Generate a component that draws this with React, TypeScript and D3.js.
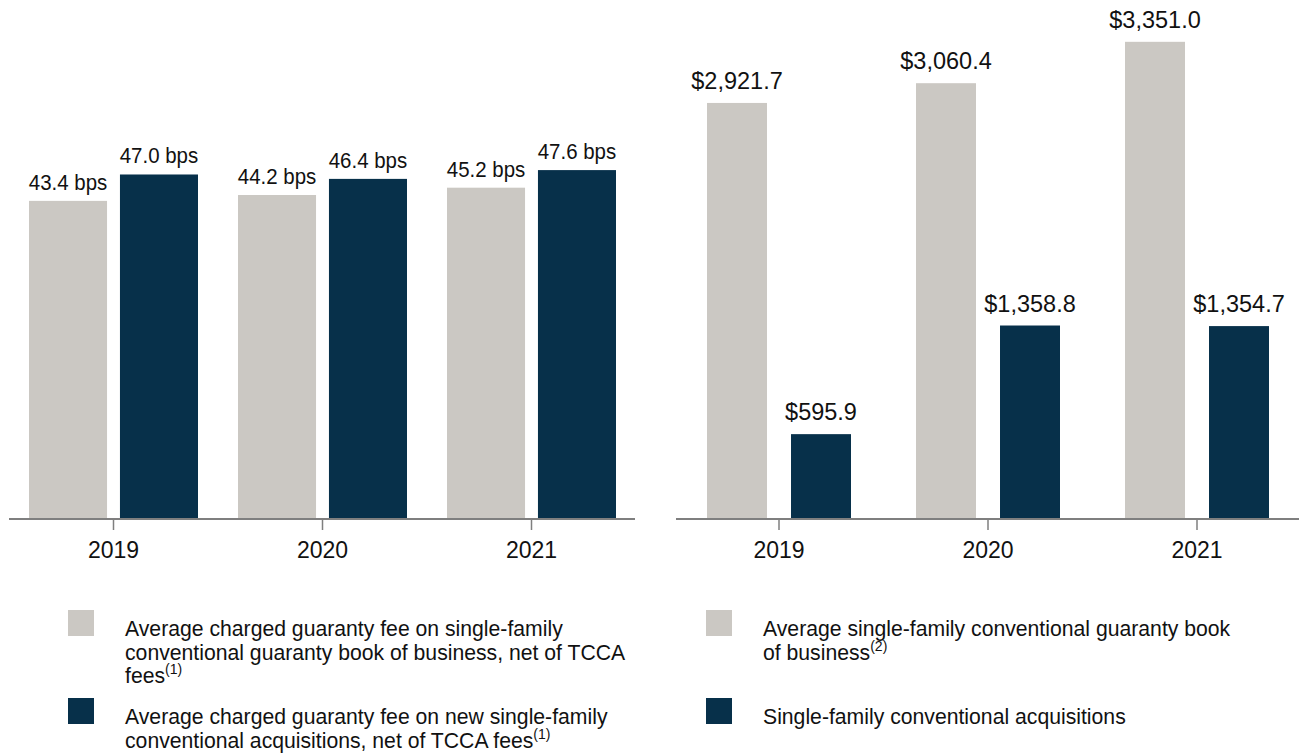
import { useEffect, useRef } from 'react';
import * as d3 from 'd3';

// years shared by both panels
const years = ['2019', '2020', '2021'];

// left panel: guaranty fee, bps
const feeBook = [43.4, 44.2, 45.2];
const feeNew = [47.0, 46.4, 47.6];

// right panel: $ billions
const bookBalance = [2921.7, 3060.4, 3351.0];
const acquisitions = [595.9, 1358.8, 1354.7];

const leftLegend = [
  ['Average charged guaranty fee on single-family', 'conventional guaranty book of business, net of TCCA', 'fees|(1)'],
  ['Average charged guaranty fee on new single-family', 'conventional acquisitions, net of TCCA fees|(1)'],
];
const rightLegend = [
  ['Average single-family conventional guaranty book', 'of business|(2)'],
  ['Single-family conventional acquisitions'],
];

const GRAY = '#cbc8c3';
const NAVY = '#07304a';
const AXIS = '#7f7f7f';
const FONT = '"Liberation Sans", Arial, Helvetica, sans-serif';

interface Panel {
  x0: number;
  x1: number;
  axisStart: number;
  axisEnd: number;
  a: number[];
  b: number[];
  pxPerUnit: number;
  inner: number;
  outer: number;
  fmt: (v: number) => string;
  labelSize: number;
  labelGap: number;
  squeeze: number;
}

const App = () => {
  const ref = useRef(null);

  useEffect(() => {
    const svg = d3.select(ref.current);
    svg.selectAll('*').remove();

    const baseY = 519;

    const panels: Panel[] = [
      {
        x0: 9, x1: 636, axisStart: 9, axisEnd: 635,
        a: feeBook, b: feeNew, pxPerUnit: 7.33,
        inner: 0.142, outer: 0.22,
        fmt: v => `${v.toFixed(1)} bps`,
        labelSize: 22, labelGap: 11, squeeze: 0.93,
      },
      {
        x0: 674.5, x1: 1301.5, axisStart: 676, axisEnd: 1299,
        a: bookBalance, b: acquisitions, pxPerUnit: 0.1424,
        inner: 0.286, outer: 0.387,
        fmt: v => '$' + d3.format(',.1f')(v),
        labelSize: 23.5, labelGap: 14, squeeze: 1,
      },
    ];

    panels.forEach(p => {
      const x = d3.scaleBand<string>().domain(years).range([p.x0, p.x1]).padding(0);
      const xs = d3.scaleBand<string>().domain(['a', 'b'])
        .range([0, x.bandwidth()])
        .paddingInner(p.inner)
        .paddingOuter(p.outer);
      const maxV = d3.max([...p.a, ...p.b]) as number;
      const y = d3.scaleLinear().domain([0, maxV]).range([baseY, baseY - maxV * p.pxPerUnit]);

      const g = svg.append('g');

      const rows = years.map((yr, i) => ({ yr, a: p.a[i], b: p.b[i] }));
      const bars = rows.flatMap(r => [
        { yr: r.yr, key: 'a', v: r.a, fill: GRAY },
        { yr: r.yr, key: 'b', v: r.b, fill: NAVY },
      ]);

      g.selectAll('rect.bar')
        .data(bars)
        .enter()
        .append('rect')
        .attr('class', 'bar')
        .attr('x', d => (x(d.yr) as number) + (xs(d.key) as number))
        .attr('y', d => y(d.v))
        .attr('width', xs.bandwidth())
        .attr('height', d => baseY - y(d.v))
        .attr('fill', d => d.fill);

      g.selectAll('text.val')
        .data(bars)
        .enter()
        .append('text')
        .attr('class', 'val')
        .attr('transform', d => {
          const cx = (x(d.yr) as number) + (xs(d.key) as number) + xs.bandwidth() / 2;
          return `translate(${cx},${y(d.v) - p.labelGap}) scale(${p.squeeze},1)`;
        })
        .attr('text-anchor', 'middle')
        .attr('font-family', FONT)
        .attr('font-size', p.labelSize)
        .attr('fill', '#111')
        .text(d => p.fmt(d.v));

      // axis line
      g.append('line')
        .attr('x1', p.axisStart).attr('x2', p.axisEnd)
        .attr('y1', baseY).attr('y2', baseY)
        .attr('stroke', AXIS).attr('stroke-width', 2);

      years.forEach(yr => {
        const cx = (x(yr) as number) + x.bandwidth() / 2;
        g.append('line')
          .attr('x1', cx).attr('x2', cx)
          .attr('y1', baseY).attr('y2', baseY + 11)
          .attr('stroke', AXIS).attr('stroke-width', 1.5);
        g.append('text')
          .attr('x', cx).attr('y', 558)
          .attr('text-anchor', 'middle')
          .attr('font-family', FONT)
          .attr('font-size', 23)
          .attr('fill', '#111')
          .text(yr);
      });
    });

    // legends
    const drawLegend = (items: string[][], sqX: number, txtX: number) => {
      const tops = [610, 698];
      items.forEach((lines, i) => {
        svg.append('rect')
          .attr('x', sqX).attr('y', tops[i])
          .attr('width', 26).attr('height', 26)
          .attr('fill', i === 0 ? GRAY : NAVY);
        lines.forEach((ln, j) => {
          const [main, sup] = ln.split('|');
          const t = svg.append('text')
            .attr('x', txtX)
            .attr('y', tops[i] + 26 + j * 23.5)
            .attr('font-family', FONT)
            .attr('font-size', 21.2)
            .attr('fill', '#111');
          t.append('tspan').text(main);
          if (sup) {
            t.append('tspan')
              .attr('font-size', 14)
              .attr('dy', -9)
              .text(sup);
          }
        });
      });
    };
    drawLegend(leftLegend, 68, 125);
    drawLegend(rightLegend, 706, 763);
  }, []);

  return (
    <svg
      ref={ref}
      width={1299}
      height={753}
      style={{ position: 'absolute', left: 0, top: 0, background: '#fff' }}
    />
  );
};

export default App;
